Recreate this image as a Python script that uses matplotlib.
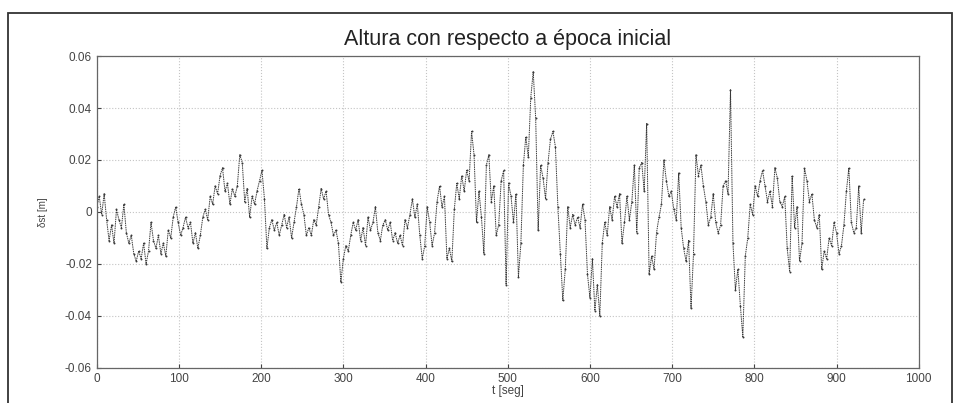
import numpy as np
import matplotlib
matplotlib.use("Agg")
import matplotlib.pyplot as plt
from matplotlib.patches import Rectangle

# sample times (s) and height differences (m)
t_step = 3
heights = [
    0.002, 0.006, -0.001, 0.007, -0.003, -0.011, -0.005, -0.012, 0.001, -0.003,
    -0.006, 0.003, -0.008, -0.012, -0.009, -0.016, -0.019, -0.015, -0.018, -0.012,
    -0.020, -0.015, -0.004, -0.011, -0.014, -0.009, -0.016, -0.012, -0.017, -0.007,
    -0.010, -0.002, 0.002, -0.004, -0.009, -0.006, -0.002, -0.006, -0.004, -0.012,
    -0.008, -0.014, -0.009, -0.002, 0.001, -0.003, 0.006, 0.003, 0.010, 0.007,
    0.014, 0.017, 0.008, 0.011, 0.003, 0.009, 0.006, 0.010, 0.022, 0.019,
    0.004, 0.009, -0.002, 0.006, 0.003, 0.008, 0.012, 0.016, 0.005, -0.014,
    -0.006, -0.003, -0.007, -0.004, -0.009, -0.005, -0.001, -0.006, -0.002, -0.010,
    -0.004, 0.002, 0.009, 0.003, -0.001, -0.009, -0.006, -0.009, -0.003, -0.005,
    0.002, 0.009, 0.005, 0.008, -0.001, -0.004, -0.009, -0.007, -0.012, -0.027,
    -0.018, -0.013, -0.015, -0.009, -0.004, -0.007, -0.003, -0.011, -0.006, -0.013,
    -0.002, -0.007, -0.004, 0.002, -0.008, -0.011, -0.005, -0.003, -0.007, -0.004,
    -0.011, -0.008, -0.012, -0.009, -0.013, -0.003, -0.006, -0.001, 0.005, -0.002,
    0.003, -0.009, -0.018, -0.013, 0.002, -0.004, -0.013, -0.008, 0.004, 0.010,
    0.002, 0.006, -0.018, -0.014, -0.019, 0.001, 0.011, 0.005, 0.014, 0.008,
    0.016, 0.012, 0.031, 0.022, -0.004, 0.008, -0.002, -0.016, 0.018, 0.022,
    0.004, 0.010, -0.009, -0.005, 0.012, 0.016, -0.028, 0.011, 0.006, -0.004,
    0.007, -0.025, -0.012, 0.018, 0.029, 0.021, 0.044, 0.054, 0.036, -0.007,
    0.018, 0.013, 0.005, 0.019, 0.028, 0.031, 0.025, 0.002, -0.016, -0.034,
    -0.022, 0.002, -0.006, -0.001, -0.005, -0.002, -0.006, 0.003, -0.003, -0.024,
    -0.033, -0.018, -0.038, -0.028, -0.040, -0.012, -0.004, -0.009, 0.002, -0.003,
    0.006, 0.002, 0.007, -0.012, -0.004, 0.006, -0.003, 0.004, 0.018, -0.008,
    0.017, 0.019, 0.008, 0.034, -0.024, -0.017, -0.022, -0.008, -0.002, 0.003,
    0.020, 0.012, 0.006, 0.008, 0.001, -0.003, 0.015, -0.006, -0.014, -0.019,
    -0.011, -0.037, -0.016, 0.022, 0.014, 0.018, 0.010, 0.004, -0.005, -0.002,
    0.007, -0.004, -0.008, -0.005, 0.010, 0.012, 0.007, 0.047, -0.012, -0.030,
    -0.022, -0.036, -0.048, -0.017, -0.010, 0.003, -0.001, 0.010, 0.006, 0.012,
    0.016, 0.010, 0.004, 0.008, 0.002, 0.017, 0.013, 0.004, 0.002, 0.006,
    -0.014, -0.023, 0.014, -0.006, 0.002, -0.019, -0.012, 0.017, 0.012, 0.004,
    0.007, -0.003, -0.006, -0.001, -0.022, -0.015, -0.018, -0.010, -0.013, -0.004,
    -0.008, -0.016, -0.013, -0.005, 0.008, 0.017, -0.004, -0.008, -0.006, 0.010,
    -0.008, 0.005,
]
times = np.arange(len(heights)) * t_step

x_ticks = [0, 100, 200, 300, 400, 500, 600, 700, 800, 900, 1000]
y_ticks = [-0.06, -0.04, -0.02, 0, 0.02, 0.04, 0.06]
y_tick_labels = ["-0.06", "-0.04", "-0.02", "0", "0.02", "0.04", "0.06"]

plt.rcParams['font.family'] = ['Liberation Sans', 'DejaVu Sans']

fig = plt.figure(figsize=(9.58, 4.03), dpi=100)
fig.patch.set_facecolor('white')
# outer frame of the scanned figure
fig.patches.append(Rectangle((0.008, -0.05), 0.986, 1.018, transform=fig.transFigure,
                             fill=False, edgecolor='#333333', linewidth=1.3))

ax = fig.add_axes([0.101, 0.087, 0.858, 0.774])
ax.plot(times, heights, color='#3a3a3a', linewidth=0.7, marker='.',
        markersize=2.8, markeredgewidth=0, linestyle=(0, (1.5, 0.8)))
ax.set_xlim(0, 1000)
ax.set_ylim(-0.06, 0.06)
ax.set_xticks(x_ticks)
ax.set_yticks(y_ticks)
ax.set_yticklabels(y_tick_labels)
ax.tick_params(labelsize=8.5, colors='#444444', length=3, direction='in')
ax.grid(True, linestyle=':', color='#c4c4c4', linewidth=0.8)
for s in ax.spines.values():
    s.set_color('#666666')
    s.set_linestyle((0, (2, 1)))
    s.set_linewidth(0.9)
ax.set_title("Altura con respecto a época inicial", fontsize=15.5, color='#222222', pad=8)
ax.set_xlabel("t [seg]", fontsize=8.5, color='#444444', labelpad=0)
ax.set_ylabel("δst [m]", fontsize=7, color='#444444', labelpad=12)

fig.savefig("out.png", dpi=100)
